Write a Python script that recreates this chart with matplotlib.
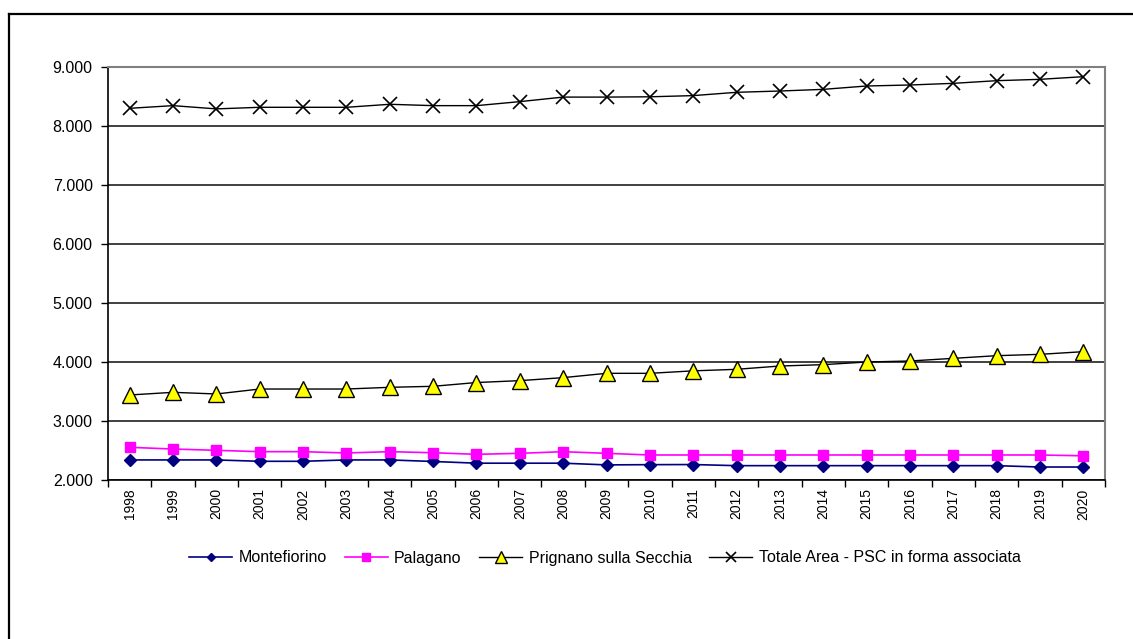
import matplotlib
matplotlib.use('Agg')
import matplotlib.pyplot as plt
from matplotlib.lines import Line2D
from matplotlib.ticker import FuncFormatter, FixedLocator

plt.rcParams['font.family'] = ['Liberation Sans', 'DejaVu Sans']

years = [str(y) for y in range(1998, 2021)]

# values
montefiorino = [2340, 2340, 2340, 2317, 2317, 2340, 2340, 2314, 2285, 2285, 2285, 2256,
                2260, 2262, 2243, 2243, 2243, 2243, 2243, 2243, 2243, 2220, 2220]
palagano = [2554, 2525, 2503, 2480, 2480, 2458, 2480, 2462, 2435, 2452, 2480, 2452,
            2424, 2424, 2424, 2424, 2424, 2424, 2424, 2424, 2424, 2424, 2410]
prignano = [3441, 3486, 3458, 3542, 3542, 3542, 3571, 3588, 3652, 3684, 3735, 3808,
            3808, 3850, 3876, 3932, 3955, 4000, 4017, 4062, 4107, 4130, 4175]
totale = [8300, 8345, 8290, 8317, 8317, 8317, 8368, 8345, 8345, 8413, 8490, 8490,
          8495, 8515, 8571, 8593, 8621, 8678, 8695, 8723, 8768, 8791, 8836]

fig = plt.figure(figsize=(11.33, 6.39), dpi=100)
ax = fig.add_axes([108 / 1133, 159 / 639, 997 / 1133, 413 / 639])

x = list(range(len(years)))
ax.plot(x, montefiorino, color='#000080', lw=1.2, marker='D', ms=6,
        mfc='#000080', mec='#000080', label='Montefiorino')
ax.plot(x, palagano, color='#FF00FF', lw=1.2, marker='s', ms=7,
        mfc='#FF00FF', mec='#FF00FF', label='Palagano')
ax.plot(x, prignano, color='black', lw=1.0, marker='^', ms=11,
        mfc='#FFFF00', mec='black', mew=1.0, label='Prignano sulla Secchia')
ax.plot(x, totale, color='black', lw=1.0, marker='x', ms=10, mew=1.2,
        mec='black', label='Totale Area - PSC in forma associata')

ax.set_xlim(-0.5, len(years) - 0.5)
ax.set_ylim(2000, 9000)
ax.set_yticks(range(2000, 9001, 1000))
ax.yaxis.set_major_formatter(FuncFormatter(lambda v, p: '{:,.0f}'.format(v).replace(',', '.')))
ax.grid(axis='y', color='#202020', lw=1.2)
ax.set_axisbelow(True)

# category ticks sit between the years, labels at the centres
ax.xaxis.set_major_locator(FixedLocator([i - 0.5 for i in range(len(years) + 1)]))
ax.xaxis.set_major_formatter(FuncFormatter(lambda v, p: ''))
ax.set_xticks(x, minor=True)
ax.set_xticklabels(years, minor=True, rotation=90, fontsize=10)
ax.tick_params(axis='x', which='minor', length=0, pad=6)
ax.tick_params(axis='x', which='major', length=5, width=1, color='black', direction='out')
ax.tick_params(axis='y', length=5, width=1, labelsize=11.5, direction='out', pad=6)

for side in ['top', 'right']:
    ax.spines[side].set_color('#808080')
    ax.spines[side].set_linewidth(1.5)
for side in ['left', 'bottom']:
    ax.spines[side].set_color('black')
    ax.spines[side].set_linewidth(1.2)

ax.legend(loc='center', bbox_to_anchor=(605 / 1133, 1 - 558 / 639),
          bbox_transform=fig.transFigure, ncol=4, frameon=False, fontsize=11.5,
          markerscale=0.75, handlelength=2.7, handletextpad=0.4, columnspacing=1.1)

# outer chart border (only left and top visible)
fig.add_artist(Line2D([8.5 / 1133, 8.5 / 1133], [0, 1 - 13.5 / 639], color='black', lw=1.6))
fig.add_artist(Line2D([8.5 / 1133, 1], [1 - 13.5 / 639, 1 - 13.5 / 639], color='black', lw=1.6))

fig.savefig('out.png', dpi=100)
